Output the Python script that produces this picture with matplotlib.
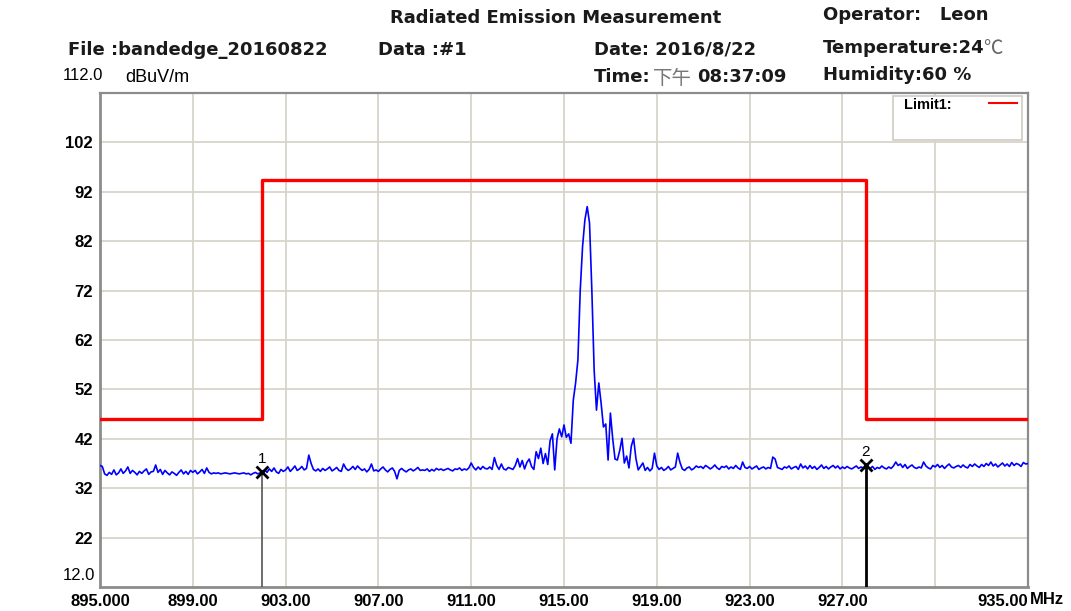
import numpy as np
import matplotlib
matplotlib.use("Agg")
import matplotlib.pyplot as plt
from matplotlib.patches import Rectangle
from matplotlib.lines import Line2D

# measured trace, 895 - 935 MHz in 0.1 MHz steps (dBuV/m)
level = [
    36.6, 36.4, 34.9, 34.6, 35.2, 34.8, 35.7, 34.7, 35.1, 35.9,  # 895
    35.0, 35.5, 36.3, 35.0, 35.6, 35.2, 34.7, 35.4, 35.0, 35.5,  # 896
    35.9, 34.8, 35.3, 35.4, 36.7, 35.2, 35.8, 34.8, 35.6, 35.1,  # 897
    34.7, 35.3, 35.0, 34.6, 35.2, 35.7, 34.9, 35.4, 34.8, 35.6,  # 898
    35.2, 35.6, 34.9, 35.3, 35.8, 35.0, 36.1, 35.2, 34.9, 35.1,  # 899
    35.0, 35.1, 34.9, 35.0, 35.1, 35.0, 34.9, 35.0, 35.1, 35.0,  # 900
    34.9, 35.0, 35.1, 34.9, 35.0, 34.7, 35.0, 35.2, 34.9, 35.1,  # 901
    35.3, 35.7, 35.2, 35.9, 35.4, 36.1, 35.3, 35.0, 35.8, 35.4,  # 902
    35.7, 36.3, 35.4, 35.9, 36.5, 35.6, 35.9, 36.4, 35.7, 36.0,  # 903
    38.7, 37.0, 35.8, 35.5, 35.9, 35.4, 36.0, 35.6, 35.9, 36.3,  # 904
    35.5, 35.8, 36.2, 35.6, 35.4, 36.9, 36.0, 35.6, 35.9, 36.4,  # 905
    35.8, 36.5, 36.0, 35.6, 35.9, 35.3, 35.8, 36.9, 35.5, 35.7,  # 906
    35.4, 35.9, 36.3, 35.7, 35.3, 35.8, 36.1, 35.4, 33.9, 35.6,  # 907
    36.0, 35.6, 35.3, 35.7, 35.9, 35.5, 35.8, 36.2, 35.6, 35.7,  # 908
    35.6, 35.9, 35.4, 35.8, 35.5, 36.0, 35.7, 35.9, 35.6, 35.8,  # 909
    36.0, 35.7, 35.5, 35.9, 35.8, 36.1, 35.6, 35.9, 35.7, 36.1,  # 910
    37.1, 36.2, 35.7, 36.3, 35.8, 36.4, 36.0, 35.9, 36.3, 35.8,  # 911
    38.2, 36.6, 35.8, 36.9, 35.9, 35.7, 36.2, 36.0, 35.8, 36.6,  # 912
    38.0, 36.3, 37.6, 35.9, 37.2, 37.9, 36.4, 35.8, 39.4, 38.0,  # 913
    40.1, 37.0, 39.0, 36.8, 41.6, 43.0, 35.7, 42.0, 44.0, 42.4,  # 914
    44.8, 42.3, 43.0, 41.1, 49.8, 53.3, 58.0, 72.1, 80.9, 86.3,  # 915
    89.0, 85.7, 72.1, 55.9, 47.8, 53.3, 49.2, 44.4, 45.0, 37.7,  # 916
    47.2, 42.0, 37.9, 37.7, 39.6, 42.1, 37.1, 38.5, 36.1, 40.5,  # 917
    42.1, 38.0, 35.7, 36.4, 37.1, 35.6, 36.2, 35.5, 36.0, 39.1,  # 918
    36.5, 35.8, 36.2, 35.6, 35.9, 36.4, 35.7, 36.0, 36.3, 39.1,  # 919
    37.2, 35.9, 35.6, 36.1, 36.3, 35.7, 36.0, 36.5, 36.2, 36.4,  # 920
    36.0, 36.6, 36.3, 35.9, 36.2, 36.7, 36.1, 35.8, 36.4, 36.2,  # 921
    36.5, 35.9, 36.3, 36.0, 36.6, 36.1, 35.8, 37.3, 36.2, 36.0,  # 922
    36.4, 35.9, 36.2, 36.5, 35.8, 36.1, 36.3, 35.9, 36.2, 36.0,  # 923
    38.3, 37.9, 36.2, 36.0, 35.8, 36.3, 36.1, 36.5, 35.9, 36.2,  # 924
    36.4, 35.8, 36.9, 36.1, 36.5, 35.9, 36.6, 36.0, 36.4, 35.8,  # 925
    36.2, 36.7, 36.0, 36.4, 35.9, 36.3, 36.6, 36.1, 36.5, 35.9,  # 926
    36.3, 36.0, 36.4, 36.1, 35.9, 36.2, 36.5, 36.0, 36.3, 36.1,  # 927
    36.7, 36.2, 36.0, 36.4, 35.8, 36.2, 36.0, 36.5, 36.1, 35.9,  # 928
    36.3, 36.0, 36.5, 37.3, 36.6, 36.9, 36.2, 36.8, 36.0, 36.4,  # 929
    36.7, 36.2, 36.0, 36.3, 36.1, 37.3, 36.5, 36.1, 35.9, 36.6,  # 930
    36.3, 36.8, 36.2, 36.6, 36.0, 36.5, 36.9, 36.3, 36.1, 36.4,  # 931
    36.6, 36.2, 36.7, 36.3, 36.1, 36.8, 36.4, 36.9, 36.5, 36.2,  # 932
    36.8, 36.4, 37.0, 36.6, 37.3, 36.5, 36.9, 36.3, 36.7, 37.1,  # 933
    36.5, 36.9, 36.4, 37.2, 36.6, 37.0, 36.8, 36.4, 37.2, 36.9,  # 934
    37.0,
]
freq = np.linspace(895.0, 935.0, len(level))

limit_freq = [895.0, 902.0, 928.0, 935.0]
limit_level = [46.0, 94.3, 46.0, 46.0]

marker_freq = [902.0, 928.0]
marker_level = [35.3, 36.7]
marker_names = ["1", "2"]

xticks = [895, 899, 903, 907, 911, 915, 919, 923, 927, 931, 935]
xlabels = ["895.000", "899.00", "903.00", "907.00", "911.00", "915.00",
           "919.00", "923.00", "927.00", "", "935.00"]
yticks = [22, 32, 42, 52, 62, 72, 82, 92, 102]

W, H = 1071, 611
fig = plt.figure(figsize=(W / 100, H / 100), dpi=100)
ax = fig.add_axes([100 / W, (H - 587) / H, 928 / W, 494 / H])

def fx(px):
    return px / W

def fy(py):
    return 1 - py / H

ax.plot(freq, level, color="#0000ff", lw=1.2, zorder=3)
ax.plot(limit_freq, limit_level, color="#ff0000", lw=2.4, drawstyle="steps-post", zorder=4)

# markers
ax.vlines(marker_freq[0], 12, marker_level[0], colors="#555555", lw=1.2, zorder=5)
ax.vlines(marker_freq[1], 12, marker_level[1], colors="black", lw=2.0, zorder=5)
ax.plot(marker_freq, marker_level, "x", color="black", ms=8, mew=2.0, zorder=6)
for f, l, n in zip(marker_freq, marker_level, marker_names):
    ax.text(f, l + 1.2, n, ha="center", va="bottom", fontsize=11, zorder=6,
            family="Liberation Sans")

ax.set_xlim(895, 935)
ax.set_ylim(12, 112)
ax.set_xticks(xticks)
ax.set_xticklabels(xlabels)
ax.set_yticks(yticks)
ax.grid(True, color="#d8d4cc", lw=1.3, zorder=0)
ax.tick_params(length=0, pad=5)
for lab in ax.get_xticklabels() + ax.get_yticklabels():
    lab.set_family("Liberation Sans")
    lab.set_fontweight("bold")
    lab.set_fontsize(12)
ax.get_xticklabels()[-1].set_ha("right")
for s in ax.spines.values():
    s.set_color("#8c8c8c")
    s.set_linewidth(1.6)
ax.spines["left"].set_linewidth(2.0)
ax.spines["bottom"].set_linewidth(2.0)

# legend box
ax.add_patch(Rectangle((0.855, 0.905), 0.138, 0.088, transform=ax.transAxes,
                       fill=True, facecolor="white", edgecolor="#d0ccc4", lw=1.2, zorder=7))
ax.text(0.866, 0.976, "Limit1:", transform=ax.transAxes, fontsize=10.5,
        fontweight="bold", family="Liberation Sans", va="center", zorder=8)
ax.add_line(Line2D([0.958, 0.988], [0.979, 0.979], transform=ax.transAxes,
                   color="#ff0000", lw=1.5, zorder=8))

# header
hdr = dict(family="DejaVu Sans", fontweight="bold", fontsize=13, va="center", color="#1a1a1a")
fig.text(fx(556), fy(18), "Radiated Emission Measurement", ha="center", **hdr)
fig.text(fx(823), fy(15), "Operator:   Leon", ha="left", **hdr)
fig.text(fx(68), fy(50), "File :bandedge_20160822", ha="left", **hdr)
fig.text(fx(378), fy(50), "Data :#1", ha="left", **hdr)
fig.text(fx(594), fy(50), "Date: 2016/8/22", ha="left", **hdr)
fig.text(fx(823), fy(48), "Temperature:24", ha="left", **hdr)
fig.text(fx(983), fy(49), "℃", ha="left", va="center", fontsize=14,
         family=["Noto Sans CJK SC", "DejaVu Sans"], color="#666666")
fig.text(fx(594), fy(77), "Time:", ha="left", **hdr)
fig.text(fx(653), fy(78), "下午", ha="left", va="center", fontsize=14,
         family=["Noto Sans CJK SC", "DejaVu Sans"], color="#777777")
fig.text(fx(697), fy(77), "08:37:09", ha="left", **hdr)
fig.text(fx(823), fy(75), "Humidity:60 %", ha="left", **hdr)

# axis annotations
fig.text(fx(63), fy(76), "112.0", ha="left", va="center", fontsize=12, family="Liberation Sans")
fig.text(fx(125), fy(77), "dBuV/m", ha="left", va="center", fontsize=13, family="Liberation Sans")
fig.text(fx(63), fy(575), "12.0", ha="left", va="center", fontsize=12, family="Liberation Sans")
fig.text(fx(1030), fy(600), "MHz", ha="left", va="center", fontsize=12, fontweight="bold",
         family="Liberation Sans")

fig.savefig("out.png", dpi=100)
